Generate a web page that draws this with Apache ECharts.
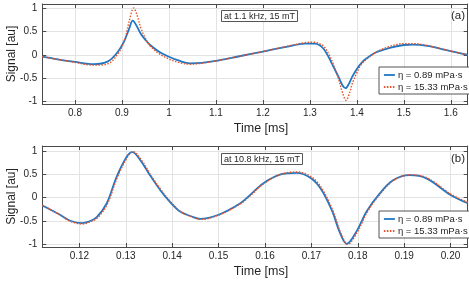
<!DOCTYPE html>
<html><head><meta charset="utf-8">
<script src="https://cdn.jsdelivr.net/npm/echarts@6/dist/echarts.min.js"></script>
<style>html,body{margin:0;padding:0;background:#fff}#c{width:469px;height:281px}</style>
</head><body><div id="c"></div>
<script>
const seriesNames = ['η = 0.89 mPa·s', 'η = 15.33 mPa·s'];
const annotA = 'at 1.1 kHz, 15 mT';
const annotB = 'at 10.8 kHz, 15 mT';
const xTicksA = [0.8, 0.9, 1.0, 1.1, 1.2, 1.3, 1.4, 1.5, 1.6];
const xTicksB = [0.12, 0.13, 0.14, 0.15, 0.16, 0.17, 0.18, 0.19, 0.20];
const yTicks = [-1, -0.5, 0, 0.5, 1];

// panel (a) — 1.1 kHz
const timeA1 = [0.730,0.76,0.80,0.84,0.87,0.89,0.905,0.915,0.923,0.93,0.94,0.95,0.96,0.98,1.00,1.02,1.045,1.07,1.10,1.15,1.20,1.25,1.29,1.31,1.32,1.33,1.34,1.35,1.36,1.37,1.376,1.383,1.39,1.40,1.41,1.42,1.44,1.47,1.50,1.52,1.55,1.60,1.636];
const sigA1  = [-0.04,-0.09,-0.15,-0.20,-0.14,0.05,0.30,0.55,0.73,0.64,0.45,0.32,0.21,0.06,-0.04,-0.12,-0.18,-0.17,-0.13,-0.03,0.07,0.17,0.24,0.24,0.21,0.12,-0.05,-0.25,-0.45,-0.66,-0.71,-0.62,-0.47,-0.30,-0.17,-0.08,0.05,0.15,0.21,0.22,0.19,0.08,0.00];
const timeA2 = [0.730,0.76,0.80,0.84,0.87,0.89,0.905,0.915,0.925,0.932,0.94,0.95,0.96,0.98,1.00,1.02,1.045,1.07,1.10,1.15,1.20,1.25,1.29,1.31,1.32,1.33,1.34,1.35,1.36,1.37,1.377,1.385,1.39,1.40,1.41,1.42,1.44,1.47,1.50,1.52,1.55,1.60,1.636];
const sigA2  = [-0.04,-0.09,-0.16,-0.22,-0.19,0.00,0.30,0.70,1.00,0.85,0.58,0.35,0.19,0.02,-0.09,-0.16,-0.20,-0.18,-0.13,-0.03,0.07,0.18,0.26,0.27,0.24,0.18,0.02,-0.20,-0.48,-0.82,-0.97,-0.80,-0.62,-0.38,-0.20,-0.10,0.05,0.18,0.24,0.24,0.20,0.08,0.00];

// panel (b) — 10.8 kHz
const timeB1 = [0.112,0.1158,0.118,0.1205,0.1222,0.12375,0.1259,0.128,0.1302,0.1314,0.1331,0.1352,0.1374,0.1395,0.1417,0.1445,0.146,0.150,0.1547,0.1568,0.1596,0.1632,0.1668,0.1700,0.1722,0.1744,0.1762,0.1776,0.1798,0.1819,0.1848,0.1876,0.1912,0.1948,0.200,0.2037];
const sigB1  = [-0.17,-0.37,-0.50,-0.55,-0.51,-0.42,-0.12,0.45,0.89,0.99,0.82,0.49,0.17,-0.09,-0.30,-0.42,-0.46,-0.37,-0.12,0.06,0.31,0.50,0.54,0.42,0.17,-0.27,-0.77,-1.00,-0.72,-0.30,0.10,0.38,0.49,0.42,0.06,-0.12];
const timeB2 = [0.112,0.1158,0.118,0.1207,0.1224,0.1240,0.1261,0.1282,0.1304,0.1316,0.1333,0.1354,0.1376,0.1397,0.1419,0.1447,0.1462,0.1502,0.1549,0.1570,0.1598,0.1634,0.1670,0.1702,0.1724,0.1746,0.1764,0.1778,0.1800,0.1821,0.1850,0.1878,0.1914,0.1950,0.2002,0.2037];
const sigB2  = [-0.16,-0.37,-0.51,-0.57,-0.52,-0.43,-0.12,0.45,0.89,1.00,0.83,0.49,0.17,-0.09,-0.31,-0.43,-0.47,-0.37,-0.12,0.06,0.31,0.51,0.56,0.44,0.18,-0.27,-0.78,-1.01,-0.73,-0.30,0.10,0.38,0.50,0.43,0.07,-0.10];

const zip = (t, v) => t.map((x, i) => [x, v[i]]);
const BLUE = '#1f77c4', RED = '#E8532A', AX = '#4a4a4a', GRID = '#e3e3e3';
const FONT = 'Liberation Sans';

function xAx(gi, min, max, ticks, fmt, name, gap) {
  return [{
    type: 'value', gridIndex: gi, min, max, position: 'bottom',
    axisLine: { show: true, onZero: false, lineStyle: { color: AX, width: 1 } },
    axisTick: { show: true, inside: true, length: 4, customValues: ticks, lineStyle: { color: AX } },
    axisLabel: { customValues: ticks, formatter: fmt, color: '#262626', fontSize: 10, fontFamily: FONT, margin: 4 },
    splitLine: { show: true, lineStyle: { color: GRID, width: 1 } },
    name, nameLocation: 'middle', nameGap: gap, nameMoveOverlap: false,
    nameTextStyle: { fontSize: 12.5, fontFamily: FONT, color: '#262626', padding: [0, 0, 0, 12] }
  }, {
    type: 'value', gridIndex: gi, min, max, position: 'top',
    axisLine: { show: true, onZero: false, lineStyle: { color: AX, width: 1 } },
    axisTick: { show: true, inside: true, length: 4, customValues: ticks, lineStyle: { color: AX } },
    axisLabel: { show: false, customValues: ticks }, splitLine: { show: false }
  }];
}
function yAx(gi, min, max) {
  return [{
    type: 'value', gridIndex: gi, min, max, position: 'left',
    axisLine: { show: true, onZero: false, lineStyle: { color: AX, width: 1 } },
    axisTick: { show: true, inside: true, length: 4, customValues: yTicks, lineStyle: { color: AX } },
    axisLabel: { customValues: yTicks, color: '#262626', fontSize: 10, fontFamily: FONT, margin: 5 },
    splitLine: { show: true, lineStyle: { color: GRID, width: 1 } },
    name: 'Signal [au]', nameLocation: 'middle', nameGap: 25, nameMoveOverlap: false,
    nameTextStyle: { fontSize: 12, fontFamily: FONT, color: '#262626' }
  }, {
    type: 'value', gridIndex: gi, min, max, position: 'right',
    axisLine: { show: true, onZero: false, lineStyle: { color: AX, width: 1 } },
    axisTick: { show: true, inside: true, length: 4, customValues: yTicks, lineStyle: { color: AX } },
    axisLabel: { show: false, customValues: yTicks }, splitLine: { show: false }
  }];
}
function ser(name, data, gi, color, type, width, z) {
  return {
    type: 'line', name, data, xAxisIndex: gi * 2, yAxisIndex: gi * 2,
    showSymbol: false, symbol: 'none', smooth: 0.35, z,
    lineStyle: { color, width, type }, itemStyle: { color }, animation: false
  };
}
function legend(top) {
  return {
    data: seriesNames, orient: 'vertical', left: 379, top,
    itemWidth: 11, itemHeight: 8, itemGap: 2, padding: [3, 4, 2, 4],
    itemStyle: { opacity: 0 },
    lineStyle: { width: 1.8 },
    backgroundColor: '#fff', borderColor: '#555', borderWidth: 1,
    textStyle: { fontSize: 9.5, fontFamily: FONT, color: '#262626', padding: [0, 0, 0, -2] },
    selectedMode: false
  };
}
function boxTitle(text, left, top) {
  return { text, left, top, padding: [2, 3, 1, 3], borderColor: '#555', borderWidth: 1, backgroundColor: '#fff',
    textStyle: { fontSize: 9, fontWeight: 'normal', fontFamily: FONT, color: '#262626' } };
}
function tag(text, left, top) {
  return { text, left, top, padding: 0, textStyle: { fontSize: 11.5, fontWeight: 'normal', fontFamily: FONT, color: '#262626' } };
}

const chart = echarts.init(document.getElementById('c'), null, { renderer: 'canvas' });
chart.setOption({
  animation: false,
  backgroundColor: '#fff',
  title: [boxTitle(annotA, 221, 10), tag('(a)', 451, 10), boxTitle(annotB, 221, 153), tag('(b)', 451, 153)],
  grid: [
    { left: 42.3, top: 4, width: 425.4, height: 100, outerBoundsMode: 'none' },
    { left: 42.3, top: 146, width: 425.4, height: 101, outerBoundsMode: 'none' }
  ],
  legend: [legend(67), legend(211)],
  xAxis: [
    ...xAx(0, 0.7304, 1.636, xTicksA, v => String(+v.toFixed(2)), 'Time [ms]', 18),
    ...xAx(1, 0.112, 0.2037, xTicksB, v => v.toFixed(2), 'Time [ms]', 18)
  ],
  yAxis: [...yAx(0, -1.049, 1.085), ...yAx(1, -1.07, 1.124)],
  series: [
    ser(seriesNames[0], zip(timeA1, sigA1), 0, BLUE, 'solid', 1.8, 2),
    ser(seriesNames[1], zip(timeA2, sigA2), 0, RED, [1.5, 1.5], 1.4, 3),
    ser(seriesNames[0], zip(timeB1, sigB1), 1, BLUE, 'solid', 1.8, 2),
    ser(seriesNames[1], zip(timeB2, sigB2), 1, RED, [1.5, 1.5], 1.4, 3)
  ]
});
</script></body></html>
